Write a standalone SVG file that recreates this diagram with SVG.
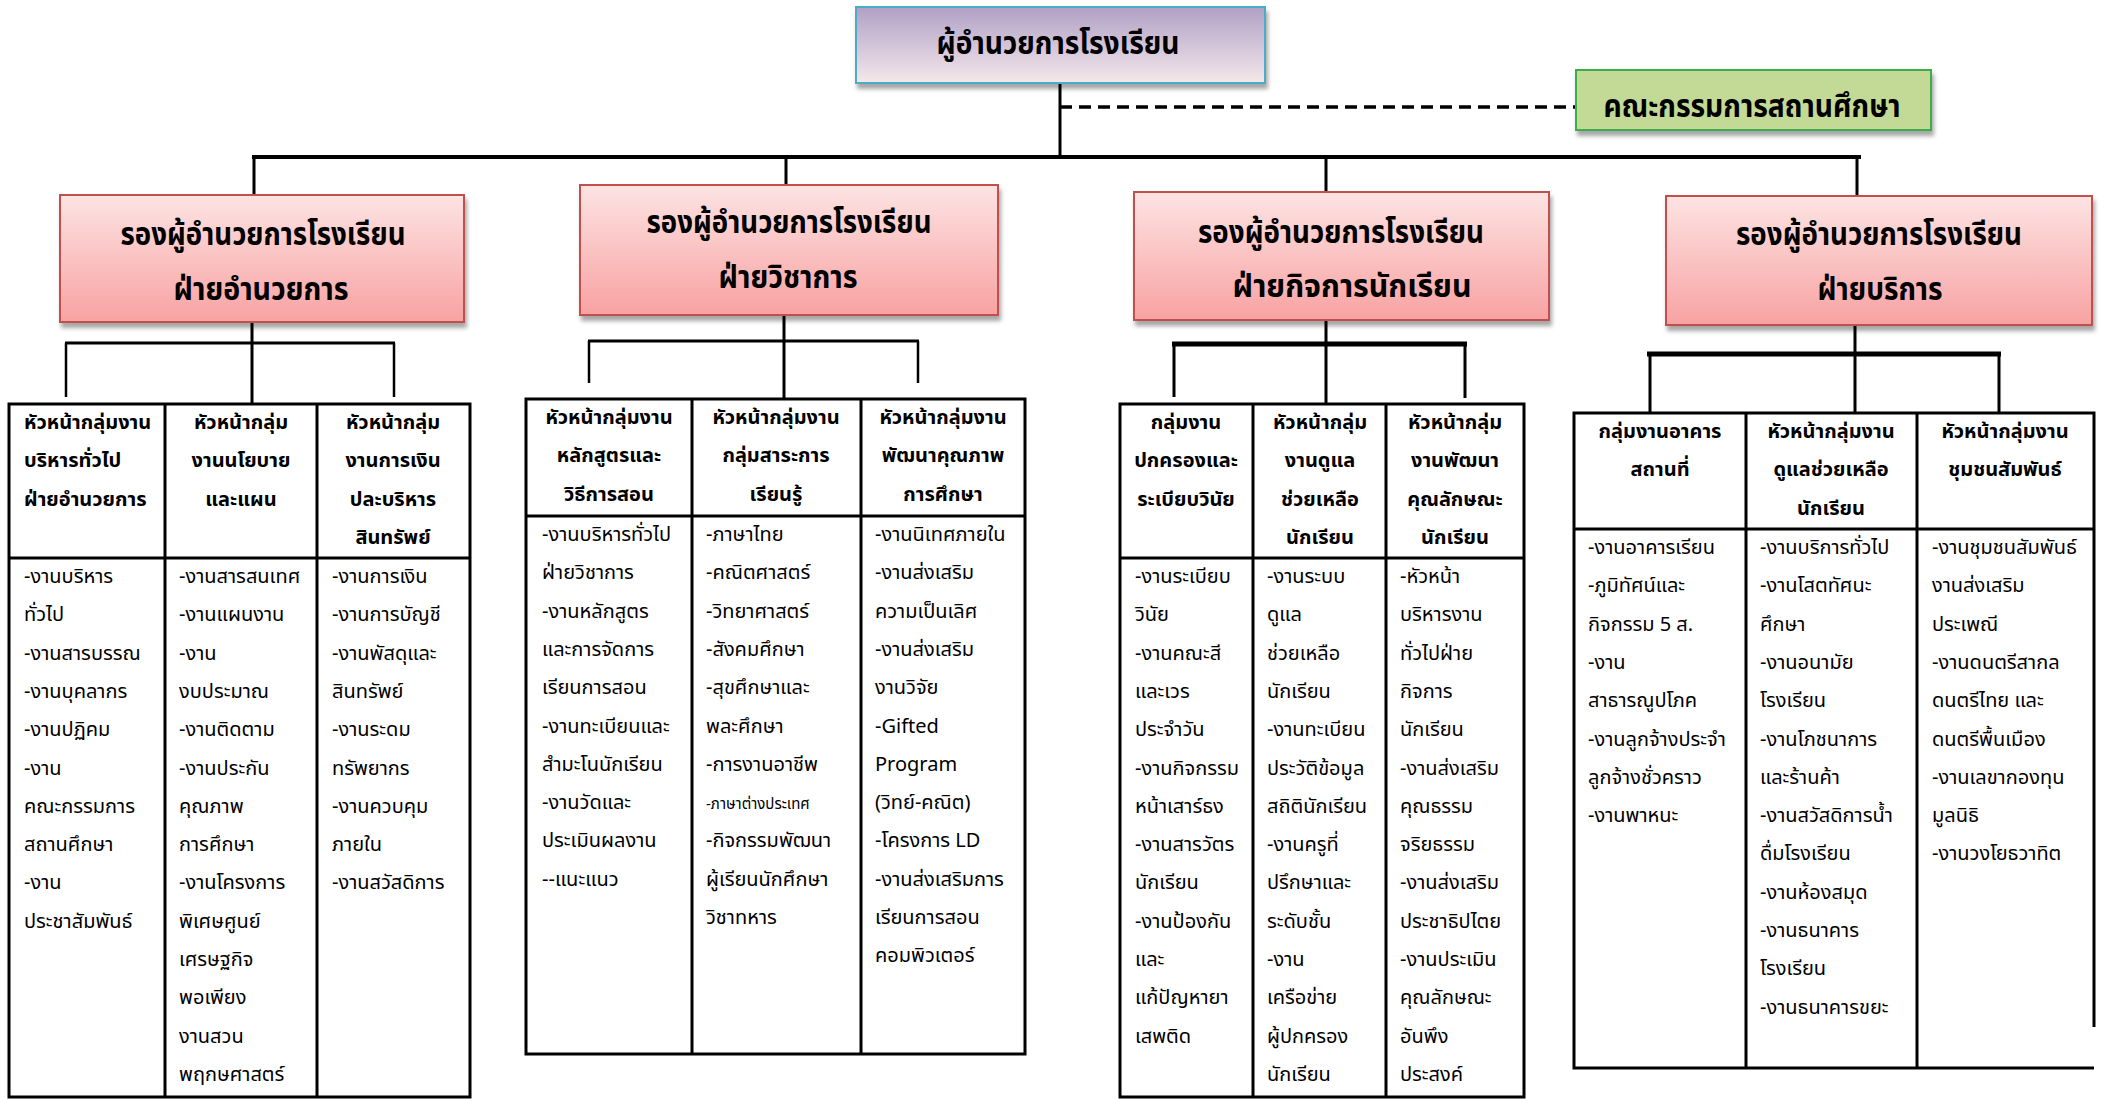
<svg xmlns="http://www.w3.org/2000/svg" width="2105" height="1099" viewBox="0 0 2105 1099">
<defs>
  <linearGradient id="gPurple" x1="0" y1="0" x2="0" y2="1">
    <stop offset="0" stop-color="#b1a0c6"/>
    <stop offset="1" stop-color="#f4e8ea"/>
  </linearGradient>
  <linearGradient id="gPink" x1="0" y1="0" x2="0" y2="1">
    <stop offset="0" stop-color="#fde3e3"/>
    <stop offset="1" stop-color="#f8a2a2"/>
  </linearGradient>
  <filter id="shadow" x="-5%" y="-5%" width="115%" height="125%">
    <feDropShadow dx="2" dy="5" stdDeviation="2" flood-color="#000" flood-opacity="0.35"/>
  </filter>
</defs>
<style>
  .th { font-family: "Noto Sans Thai", "Leelawadee UI", Tahoma, "DejaVu Sans", "Noto Sans", sans-serif; fill: #000; }
  .big { font-size: 31px; font-weight: bold; text-anchor: middle; }
  .cell { font-size: 20px; }
  .hd { font-weight: bold; }
  .mid { text-anchor: middle; }
  .tbl { fill: #fff; stroke: none; }
  .ln { stroke: #000; stroke-width: 3; fill: none; }
  .con { stroke: #000; fill: none; }
  .dep { fill: url(#gPink); stroke: #c0504d; stroke-width: 2; filter: url(#shadow); }
</style>
<rect width="2105" height="1099" fill="#fff"/>

<g id="connectors" class="con">
  <line x1="1060" y1="83" x2="1060" y2="157" stroke-width="3"/>
  <line x1="1060" y1="107" x2="1576" y2="107" stroke-width="3.5" stroke-dasharray="12 7"/>
  <line x1="252" y1="157" x2="1861" y2="157" stroke-width="4"/>
  <line x1="254" y1="157" x2="254" y2="196" stroke-width="3"/>
  <line x1="786" y1="157" x2="786" y2="185" stroke-width="3"/>
  <line x1="1326" y1="157" x2="1326" y2="192" stroke-width="3"/>
  <line x1="1857" y1="157" x2="1857" y2="196" stroke-width="3"/>
  <!-- section 1 -->
  <line x1="252" y1="322" x2="252" y2="404" stroke-width="3"/>
  <line x1="65" y1="343" x2="395" y2="343" stroke-width="3"/>
  <line x1="66" y1="343" x2="66" y2="397" stroke-width="2.5"/>
  <line x1="394" y1="343" x2="394" y2="397" stroke-width="2.5"/>
  <!-- section 2 -->
  <line x1="784" y1="315" x2="784" y2="399" stroke-width="3"/>
  <line x1="588" y1="341" x2="919" y2="341" stroke-width="3"/>
  <line x1="589" y1="341" x2="589" y2="383" stroke-width="2.5"/>
  <line x1="918" y1="341" x2="918" y2="383" stroke-width="2.5"/>
  <!-- section 3 -->
  <line x1="1326" y1="320" x2="1326" y2="404" stroke-width="3"/>
  <line x1="1172" y1="344" x2="1467" y2="344" stroke-width="5"/>
  <line x1="1174" y1="344" x2="1174" y2="397" stroke-width="3"/>
  <line x1="1465" y1="344" x2="1465" y2="398" stroke-width="3"/>
  <!-- section 4 -->
  <line x1="1855" y1="325" x2="1855" y2="413" stroke-width="3"/>
  <line x1="1647" y1="354" x2="2001" y2="354" stroke-width="5"/>
  <line x1="1650" y1="354" x2="1650" y2="413" stroke-width="3"/>
  <line x1="1999" y1="354" x2="1999" y2="413" stroke-width="3"/>
</g>

<g id="director">
  <rect x="856" y="7" width="409" height="76" fill="url(#gPurple)" stroke="#4bacc6" stroke-width="2" filter="url(#shadow)"/>
  <text class="th big" x="1058" y="54" textLength="243" lengthAdjust="spacingAndGlyphs">ผู้อำนวยการโรงเรียน</text>
</g>

<g id="committee">
  <rect x="1576" y="70" width="355" height="60" fill="#c2da95" stroke="#3aae4a" stroke-width="2" filter="url(#shadow)"/>
  <text class="th big" x="1752" y="117" textLength="297" lengthAdjust="spacingAndGlyphs">คณะกรรมการสถานศึกษา</text>
</g>

<g id="deputy-admin">
  <rect class="dep" x="60" y="195" width="404" height="127"/>
  <text class="th big" x="263" y="245" textLength="285" lengthAdjust="spacingAndGlyphs">รองผู้อำนวยการโรงเรียน</text>
  <text class="th big" x="261" y="300" textLength="175" lengthAdjust="spacingAndGlyphs">ฝ่ายอำนวยการ</text>
</g>
<g id="deputy-academic">
  <rect class="dep" x="580" y="185" width="418" height="130"/>
  <text class="th big" x="789" y="233" textLength="285" lengthAdjust="spacingAndGlyphs">รองผู้อำนวยการโรงเรียน</text>
  <text class="th big" x="788" y="288" textLength="139" lengthAdjust="spacingAndGlyphs">ฝ่ายวิชาการ</text>
</g>
<g id="deputy-student">
  <rect class="dep" x="1134" y="192" width="415" height="128"/>
  <text class="th big" x="1341" y="243" textLength="286" lengthAdjust="spacingAndGlyphs">รองผู้อำนวยการโรงเรียน</text>
  <text class="th big" x="1352" y="297" textLength="239" lengthAdjust="spacingAndGlyphs">ฝ่ายกิจการนักเรียน</text>
</g>
<g id="deputy-service">
  <rect class="dep" x="1666" y="196" width="426" height="129"/>
  <text class="th big" x="1879" y="245" textLength="286" lengthAdjust="spacingAndGlyphs">รองผู้อำนวยการโรงเรียน</text>
  <text class="th big" x="1880" y="300" textLength="125" lengthAdjust="spacingAndGlyphs">ฝ่ายบริการ</text>
</g>

<!-- Table 1 -->
<g id="table-admin">
  <rect class="tbl" x="9" y="404" width="461" height="693"/>
  <path class="ln" d="M9 404H470V1097H9Z M165 404V1097 M317 404V1097 M9 558H470"/>
  <text class="th cell hd" x="24" y="429"><tspan x="24">หัวหน้ากลุ่มงาน</tspan><tspan x="24" dy="38.3">บริหารทั่วไป</tspan><tspan x="24" dy="38.3">ฝ่ายอำนวยการ</tspan></text>
  <text class="th cell hd mid" y="429"><tspan x="241">หัวหน้ากลุ่ม</tspan><tspan x="241" dy="38.3">งานนโยบาย</tspan><tspan x="241" dy="38.3">และแผน</tspan></text>
  <text class="th cell hd mid" y="429"><tspan x="393">หัวหน้ากลุ่ม</tspan><tspan x="393" dy="38.3">งานการเงิน</tspan><tspan x="393" dy="38.3">ปละบริหาร</tspan><tspan x="393" dy="38.3">สินทรัพย์</tspan></text>
  <text class="th cell" y="583"><tspan x="24">-งานบริหาร</tspan><tspan x="24" dy="38.3">ทั่วไป</tspan><tspan x="24" dy="38.3">-งานสารบรรณ</tspan><tspan x="24" dy="38.3">-งานบุคลากร</tspan><tspan x="24" dy="38.3">-งานปฏิคม</tspan><tspan x="24" dy="38.3">-งาน</tspan><tspan x="24" dy="38.3">คณะกรรมการ</tspan><tspan x="24" dy="38.3">สถานศึกษา</tspan><tspan x="24" dy="38.3">-งาน</tspan><tspan x="24" dy="38.3">ประชาสัมพันธ์</tspan></text>
  <text class="th cell" y="583"><tspan x="179">-งานสารสนเทศ</tspan><tspan x="179" dy="38.3">-งานแผนงาน</tspan><tspan x="179" dy="38.3">-งาน</tspan><tspan x="179" dy="38.3">งบประมาณ</tspan><tspan x="179" dy="38.3">-งานติดตาม</tspan><tspan x="179" dy="38.3">-งานประกัน</tspan><tspan x="179" dy="38.3">คุณภาพ</tspan><tspan x="179" dy="38.3">การศึกษา</tspan><tspan x="179" dy="38.3">-งานโครงการ</tspan><tspan x="179" dy="38.3">พิเศษศูนย์</tspan><tspan x="179" dy="38.3">เศรษฐกิจ</tspan><tspan x="179" dy="38.3">พอเพียง</tspan><tspan x="179" dy="38.3">งานสวน</tspan><tspan x="179" dy="38.3">พฤกษศาสตร์</tspan></text>
  <text class="th cell" y="583"><tspan x="332">-งานการเงิน</tspan><tspan x="332" dy="38.3">-งานการบัญชี</tspan><tspan x="332" dy="38.3">-งานพัสดุและ</tspan><tspan x="332" dy="38.3">สินทรัพย์</tspan><tspan x="332" dy="38.3">-งานระดม</tspan><tspan x="332" dy="38.3">ทรัพยากร</tspan><tspan x="332" dy="38.3">-งานควบคุม</tspan><tspan x="332" dy="38.3">ภายใน</tspan><tspan x="332" dy="38.3">-งานสวัสดิการ</tspan></text>
</g>

<!-- Table 2 -->
<g id="table-academic">
  <rect class="tbl" x="526" y="399" width="499" height="655"/>
  <path class="ln" d="M526 399H1025V1054H526Z M692 399V1054 M861 399V1054 M526 516H1025"/>
  <text class="th cell hd mid" y="424"><tspan x="609">หัวหน้ากลุ่มงาน</tspan><tspan x="609" dy="38.3">หลักสูตรและ</tspan><tspan x="609" dy="38.3">วิธีการสอน</tspan></text>
  <text class="th cell hd mid" y="424"><tspan x="776">หัวหน้ากลุ่มงาน</tspan><tspan x="776" dy="38.3">กลุ่มสาระการ</tspan><tspan x="776" dy="38.3">เรียนรู้</tspan></text>
  <text class="th cell hd mid" y="424"><tspan x="943">หัวหน้ากลุ่มงาน</tspan><tspan x="943" dy="38.3">พัฒนาคุณภาพ</tspan><tspan x="943" dy="38.3">การศึกษา</tspan></text>
  <text class="th cell" y="541"><tspan x="542">-งานบริหารทั่วไป</tspan><tspan x="542" dy="38.3">ฝ่ายวิชาการ</tspan><tspan x="542" dy="38.3">-งานหลักสูตร</tspan><tspan x="542" dy="38.3">และการจัดการ</tspan><tspan x="542" dy="38.3">เรียนการสอน</tspan><tspan x="542" dy="38.3">-งานทะเบียนและ</tspan><tspan x="542" dy="38.3">สำมะโนนักเรียน</tspan><tspan x="542" dy="38.3">-งานวัดและ</tspan><tspan x="542" dy="38.3">ประเมินผลงาน</tspan><tspan x="542" dy="38.3">--แนะแนว</tspan></text>
  <text class="th cell" y="541"><tspan x="706">-ภาษาไทย</tspan><tspan x="706" dy="38.3">-คณิตศาสตร์</tspan><tspan x="706" dy="38.3">-วิทยาศาสตร์</tspan><tspan x="706" dy="38.3">-สังคมศึกษา</tspan><tspan x="706" dy="38.3">-สุขศึกษาและ</tspan><tspan x="706" dy="38.3">พละศึกษา</tspan><tspan x="706" dy="38.3">-การงานอาชีพ</tspan><tspan x="706" dy="38.3" font-size="15">-ภาษาต่างประเทศ</tspan><tspan x="706" dy="38.3">-กิจกรรมพัฒนา</tspan><tspan x="706" dy="38.3">ผู้เรียนนักศึกษา</tspan><tspan x="706" dy="38.3">วิชาทหาร</tspan></text>
  <text class="th cell" y="541"><tspan x="875">-งานนิเทศภายใน</tspan><tspan x="875" dy="38.3">-งานส่งเสริม</tspan><tspan x="875" dy="38.3">ความเป็นเลิศ</tspan><tspan x="875" dy="38.3">-งานส่งเสริม</tspan><tspan x="875" dy="38.3">งานวิจัย</tspan><tspan x="875" dy="38.3">-Gifted</tspan><tspan x="875" dy="38.3">Program</tspan><tspan x="875" dy="38.3">(วิทย์-คณิต)</tspan><tspan x="875" dy="38.3">-โครงการ LD</tspan><tspan x="875" dy="38.3">-งานส่งเสริมการ</tspan><tspan x="875" dy="38.3">เรียนการสอน</tspan><tspan x="875" dy="38.3">คอมพิวเตอร์</tspan></text>
</g>

<!-- Table 3 -->
<g id="table-student">
  <rect class="tbl" x="1120" y="404" width="404" height="693"/>
  <path class="ln" d="M1120 404H1524V1097H1120Z M1253 404V1097 M1386 404V1097 M1120 558H1524"/>
  <text class="th cell hd mid" y="429"><tspan x="1186">กลุ่มงาน</tspan><tspan x="1186" dy="38.3">ปกครองและ</tspan><tspan x="1186" dy="38.3">ระเบียบวินัย</tspan></text>
  <text class="th cell hd mid" y="429"><tspan x="1320">หัวหน้ากลุ่ม</tspan><tspan x="1320" dy="38.3">งานดูแล</tspan><tspan x="1320" dy="38.3">ช่วยเหลือ</tspan><tspan x="1320" dy="38.3">นักเรียน</tspan></text>
  <text class="th cell hd mid" y="429"><tspan x="1455">หัวหน้ากลุ่ม</tspan><tspan x="1455" dy="38.3">งานพัฒนา</tspan><tspan x="1455" dy="38.3">คุณลักษณะ</tspan><tspan x="1455" dy="38.3">นักเรียน</tspan></text>
  <text class="th cell" y="583"><tspan x="1135">-งานระเบียบ</tspan><tspan x="1135" dy="38.3">วินัย</tspan><tspan x="1135" dy="38.3">-งานคณะสี</tspan><tspan x="1135" dy="38.3">และเวร</tspan><tspan x="1135" dy="38.3">ประจำวัน</tspan><tspan x="1135" dy="38.3">-งานกิจกรรม</tspan><tspan x="1135" dy="38.3">หน้าเสาร์ธง</tspan><tspan x="1135" dy="38.3">-งานสารวัตร</tspan><tspan x="1135" dy="38.3">นักเรียน</tspan><tspan x="1135" dy="38.3">-งานป้องกัน</tspan><tspan x="1135" dy="38.3">และ</tspan><tspan x="1135" dy="38.3">แก้ปัญหายา</tspan><tspan x="1135" dy="38.3">เสพติด</tspan></text>
  <text class="th cell" y="583"><tspan x="1267">-งานระบบ</tspan><tspan x="1267" dy="38.3">ดูแล</tspan><tspan x="1267" dy="38.3">ช่วยเหลือ</tspan><tspan x="1267" dy="38.3">นักเรียน</tspan><tspan x="1267" dy="38.3">-งานทะเบียน</tspan><tspan x="1267" dy="38.3">ประวัติข้อมูล</tspan><tspan x="1267" dy="38.3">สถิตินักเรียน</tspan><tspan x="1267" dy="38.3">-งานครูที่</tspan><tspan x="1267" dy="38.3">ปรึกษาและ</tspan><tspan x="1267" dy="38.3">ระดับชั้น</tspan><tspan x="1267" dy="38.3">-งาน</tspan><tspan x="1267" dy="38.3">เครือข่าย</tspan><tspan x="1267" dy="38.3">ผู้ปกครอง</tspan><tspan x="1267" dy="38.3">นักเรียน</tspan></text>
  <text class="th cell" y="583"><tspan x="1400">-หัวหน้า</tspan><tspan x="1400" dy="38.3">บริหารงาน</tspan><tspan x="1400" dy="38.3">ทั่วไปฝ่าย</tspan><tspan x="1400" dy="38.3">กิจการ</tspan><tspan x="1400" dy="38.3">นักเรียน</tspan><tspan x="1400" dy="38.3">-งานส่งเสริม</tspan><tspan x="1400" dy="38.3">คุณธรรม</tspan><tspan x="1400" dy="38.3">จริยธรรม</tspan><tspan x="1400" dy="38.3">-งานส่งเสริม</tspan><tspan x="1400" dy="38.3">ประชาธิปไตย</tspan><tspan x="1400" dy="38.3">-งานประเมิน</tspan><tspan x="1400" dy="38.3">คุณลักษณะ</tspan><tspan x="1400" dy="38.3">อันพึง</tspan><tspan x="1400" dy="38.3">ประสงค์</tspan></text>
</g>

<!-- Table 4 -->
<g id="table-service">
  <rect class="tbl" x="1574" y="413" width="520" height="655"/>
  <path class="ln" d="M2094 1027V413H1574V1068H2094 M1746 413V1068 M1917 413V1068 M1574 529H2094"/>
  <text class="th cell hd mid" y="438"><tspan x="1660">กลุ่มงานอาคาร</tspan><tspan x="1660" dy="38.3">สถานที่</tspan></text>
  <text class="th cell hd mid" y="438"><tspan x="1831">หัวหน้ากลุ่มงาน</tspan><tspan x="1831" dy="38.3">ดูแลช่วยเหลือ</tspan><tspan x="1831" dy="38.3">นักเรียน</tspan></text>
  <text class="th cell hd mid" y="438"><tspan x="2005">หัวหน้ากลุ่มงาน</tspan><tspan x="2005" dy="38.3">ชุมชนสัมพันธ์</tspan></text>
  <text class="th cell" y="554"><tspan x="1588">-งานอาคารเรียน</tspan><tspan x="1588" dy="38.3">-ภูมิทัศน์และ</tspan><tspan x="1588" dy="38.3">กิจกรรม 5 ส.</tspan><tspan x="1588" dy="38.3">-งาน</tspan><tspan x="1588" dy="38.3">สาธารณูปโภค</tspan><tspan x="1588" dy="38.3">-งานลูกจ้างประจำ</tspan><tspan x="1588" dy="38.3">ลูกจ้างชั่วคราว</tspan><tspan x="1588" dy="38.3">-งานพาหนะ</tspan></text>
  <text class="th cell" y="554"><tspan x="1760">-งานบริการทั่วไป</tspan><tspan x="1760" dy="38.3">-งานโสตทัศนะ</tspan><tspan x="1760" dy="38.3">ศึกษา</tspan><tspan x="1760" dy="38.3">-งานอนามัย</tspan><tspan x="1760" dy="38.3">โรงเรียน</tspan><tspan x="1760" dy="38.3">-งานโภชนาการ</tspan><tspan x="1760" dy="38.3">และร้านค้า</tspan><tspan x="1760" dy="38.3">-งานสวัสดิการน้ำ</tspan><tspan x="1760" dy="38.3">ดื่มโรงเรียน</tspan><tspan x="1760" dy="38.3">-งานห้องสมุด</tspan><tspan x="1760" dy="38.3">-งานธนาคาร</tspan><tspan x="1760" dy="38.3">โรงเรียน</tspan><tspan x="1760" dy="38.3">-งานธนาคารขยะ</tspan></text>
  <text class="th cell" y="554"><tspan x="1932">-งานชุมชนสัมพันธ์</tspan><tspan x="1932" dy="38.3">งานส่งเสริม</tspan><tspan x="1932" dy="38.3">ประเพณี</tspan><tspan x="1932" dy="38.3">-งานดนตรีสากล</tspan><tspan x="1932" dy="38.3">ดนตรีไทย และ</tspan><tspan x="1932" dy="38.3">ดนตรีพื้นเมือง</tspan><tspan x="1932" dy="38.3">-งานเลขากองทุน</tspan><tspan x="1932" dy="38.3">มูลนิธิ</tspan><tspan x="1932" dy="38.3">-งานวงโยธวาทิต</tspan></text>
</g>
</svg>
